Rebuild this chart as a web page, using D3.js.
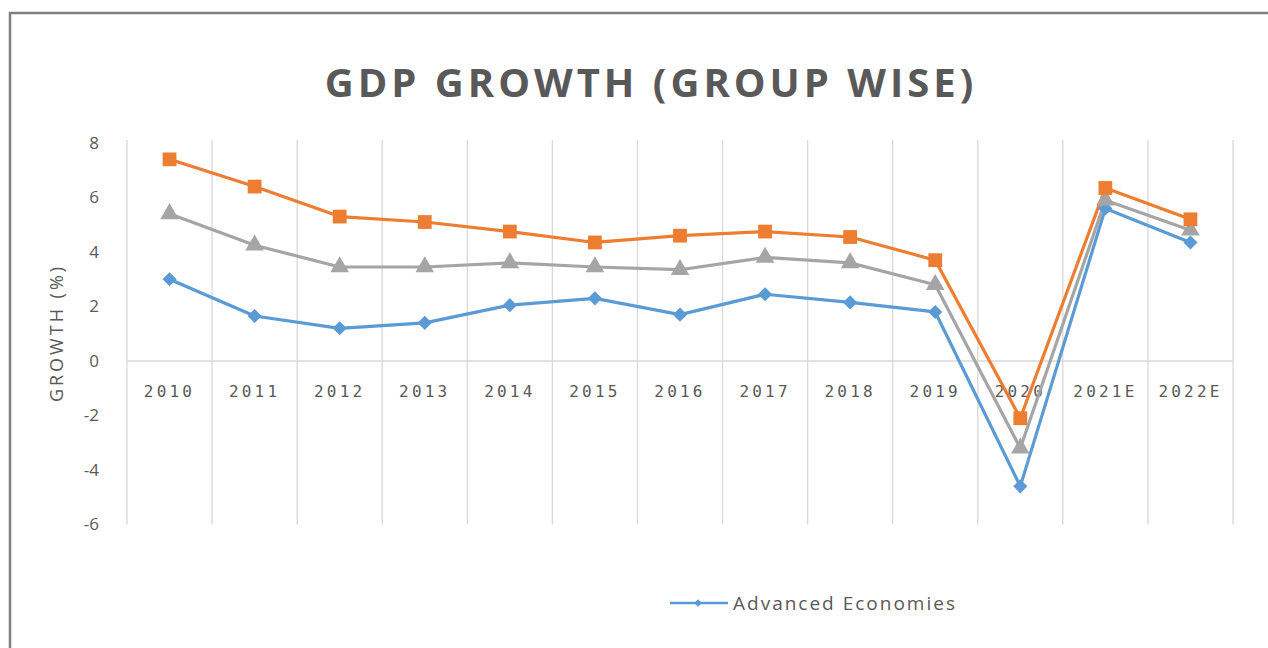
<!DOCTYPE html>
<html>
<head>
<meta charset="utf-8">
<script src="https://cdn.jsdelivr.net/npm/d3@7"></script>
<style>
  html, body { margin: 0; padding: 0; background: #fff; }
  svg { display: block; }
</style>
</head>
<body>
<svg id="chart" width="1268" height="648"></svg>
<script>
// Categories (years, E = estimate)
const years = ["2010","2011","2012","2013","2014","2015","2016","2017","2018","2019","2020","2021E","2022E"];

// Real GDP growth, %
const advanced = [3.0, 1.65, 1.2, 1.4, 2.05, 2.3, 1.7, 2.45, 2.15, 1.8, -4.6, 5.6, 4.35];
const world    = [5.4, 4.25, 3.45, 3.45, 3.6, 3.45, 3.35, 3.8, 3.6, 2.8, -3.2, 5.9, 4.8];
const emerging = [7.4, 6.4, 5.3, 5.1, 4.75, 4.35, 4.6, 4.75, 4.55, 3.7, -2.1, 6.35, 5.2];

const yTicks = [-6, -4, -2, 0, 2, 4, 6, 8];

const svg = d3.select("#chart");
const W = 1268, H = 648;

// outer frame
svg.append("rect")
  .attr("x", 10).attr("y", 13)
  .attr("width", W + 20).attr("height", H + 20)
  .attr("fill", "#fff").attr("stroke", "#7f7f7f").attr("stroke-width", 2.5);

const plot = { left: 127, right: 1233, top: 143, bottom: 524.5 };

const x = d3.scaleBand().domain(years).range([plot.left, plot.right]).padding(0);
const y = d3.scaleLinear().domain([-6, 8]).range([plot.bottom, plot.top]);

// vertical gridlines at category boundaries
const bounds = years.map(d => x(d)).concat([plot.right]);
svg.append("g").selectAll("line").data(bounds).join("line")
  .attr("x1", d => d).attr("x2", d => d)
  .attr("y1", plot.top - 3).attr("y2", plot.bottom)
  .attr("stroke", "#d9d9d9").attr("stroke-width", 1.3);

// zero baseline
svg.append("line")
  .attr("x1", plot.left).attr("x2", plot.right)
  .attr("y1", y(0)).attr("y2", y(0))
  .attr("stroke", "#d9d9d9").attr("stroke-width", 1.3);

// y axis labels
const yAxis = d3.axisLeft(y).tickValues(yTicks).tickSize(0).tickPadding(0)
  .tickFormat(d => d < 0 ? "-" + Math.abs(d) : String(d));
const gy = svg.append("g").attr("transform", `translate(${plot.left - 28},0)`).call(yAxis);
gy.select(".domain").remove();
gy.selectAll("text")
  .attr("fill", "#595959").attr("font-family", "Open Sans, sans-serif").attr("font-size", 17);

// category labels just below zero line
const xAxis = d3.axisBottom(x).tickSize(0).tickPadding(0);
const gx = svg.append("g").attr("transform", `translate(0,${y(0) + 30})`).call(xAxis);
gx.select(".domain").remove();
gx.selectAll("text")
  .attr("dy", "0.35em")
  .attr("fill", "#595959").attr("font-family", "DejaVu Sans Mono, monospace").attr("font-size", 16)
  .attr("letter-spacing", 3.2);

// y axis title
svg.append("text")
  .attr("transform", "translate(63,333) rotate(-90)")
  .attr("text-anchor", "middle")
  .attr("fill", "#595959").attr("font-family", "Open Sans, sans-serif").attr("font-size", 18)
  .attr("letter-spacing", 3)
  .text("GROWTH (%)");

// chart title
svg.append("text")
  .attr("x", 651).attr("y", 97)
  .attr("text-anchor", "middle")
  .attr("fill", "#595959").attr("font-family", "Open Sans, sans-serif")
  .attr("font-weight", "bold").attr("font-size", 40).attr("letter-spacing", 4)
  .text("GDP GROWTH (GROUP WISE)");

const cx = d => x(d) + x.bandwidth() / 2;
const line = d3.line().x((v, i) => cx(years[i])).y(v => y(v));

const series = [
  { values: emerging, color: "#ED7D31", marker: d3.symbolSquare, size: 190, rot: 0 },
  { values: world,    color: "#A5A5A5", marker: d3.symbolTriangle, size: 150, rot: 0 },
  { values: advanced, color: "#5B9BD5", marker: d3.symbolSquare, size: 100, rot: 45 }
];

// draw back to front: advanced on top
series.slice().reverse().forEach(s => {
  svg.append("path")
    .datum(s.values)
    .attr("d", line)
    .attr("fill", "none").attr("stroke", s.color).attr("stroke-width", 3.2)
    .attr("stroke-linejoin", "round");
});
series.slice().reverse().forEach(s => {
  svg.append("g").selectAll("path").data(s.values).join("path")
    .attr("transform", (v, i) => `translate(${cx(years[i])},${y(v)}) rotate(${s.rot})`)
    .attr("d", d3.symbol().type(s.marker).size(s.size))
    .attr("fill", s.color);
});

// legend
const lg = svg.append("g").attr("transform", "translate(670,603)");
lg.append("line").attr("x1", 0).attr("x2", 58).attr("y1", 0).attr("y2", 0)
  .attr("stroke", "#5B9BD5").attr("stroke-width", 2.5);
lg.append("path").attr("transform", "translate(28,0) rotate(45)")
  .attr("d", d3.symbol().type(d3.symbolSquare).size(30)).attr("fill", "#5B9BD5");
lg.append("text").attr("x", 63).attr("y", 0).attr("dy", "0.35em")
  .attr("fill", "#595959").attr("font-family", "Open Sans, sans-serif").attr("font-size", 19)
  .attr("letter-spacing", 2)
  .text("Advanced Economies");
</script>
</body>
</html>
